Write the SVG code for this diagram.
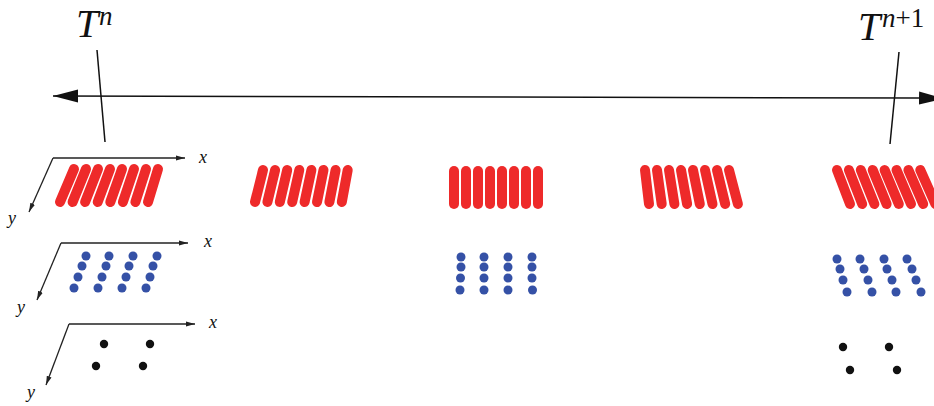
<svg xmlns="http://www.w3.org/2000/svg" width="934" height="406" viewBox="0 0 934 406">
<defs>
<marker id="bigArrow" markerUnits="userSpaceOnUse" markerWidth="26" markerHeight="14" refX="25" refY="7" orient="auto">
<path d="M0,0.5 L25,7 L0,13.5 Z" fill="#111"/>
</marker>
<marker id="smallArrow" markerUnits="userSpaceOnUse" markerWidth="10" markerHeight="6" refX="9" refY="3" orient="auto">
<path d="M0,0.5 L9,3 L0,5.5 Z" fill="#222"/>
</marker>
</defs>
<style>
.tl{stroke:#111;stroke-width:1.5;fill:none}
.ax{stroke:#222;stroke-width:1.3;fill:none}
.strip line{stroke:#ee2a2a;stroke-width:10;stroke-linecap:round}
.blue circle{fill:#3551a6}
.blk circle{fill:#111}
.math{font-family:"Liberation Serif","DejaVu Serif",serif;font-style:italic;fill:#111}
.up{font-style:normal}
</style>
<rect width="934" height="406" fill="#fff"/>
<g id="connectors">
<line class="tl" x1="918" y1="98" x2="53" y2="96" marker-end="url(#bigArrow)"/>
<line class="tl" x1="918" y1="98" x2="944" y2="98.5" marker-end="url(#bigArrow)"/>
<line class="tl" x1="97" y1="50" x2="105" y2="142"/>
<line class="tl" x1="899" y1="52" x2="890" y2="144"/>
</g>
<g id="label-Tn">
<text class="math" x="76" y="37" font-size="40">T</text>
<text class="math" x="99" y="25" font-size="27">n</text>
</g>
<g id="label-Tn1">
<text class="math" x="858" y="40" font-size="40">T</text>
<text class="math" x="882" y="27" font-size="27">n<tspan class="up">+1</tspan></text>
</g>
<g id="axes">
<g id="axes-red">
<polyline class="ax" points="53,158 185,158" marker-end="url(#smallArrow)"/>
<line class="ax" x1="53" y1="158" x2="29" y2="212" marker-end="url(#smallArrow)"/>
<text class="math" x="199" y="163" font-size="18">x</text>
<text class="math" x="8" y="224" font-size="18">y</text>
</g>
<g id="axes-blue">
<polyline class="ax" points="61,243 188,243" marker-end="url(#smallArrow)"/>
<line class="ax" x1="61" y1="243" x2="37" y2="300" marker-end="url(#smallArrow)"/>
<text class="math" x="204" y="247" font-size="18">x</text>
<text class="math" x="17" y="313" font-size="18">y</text>
</g>
<g id="axes-black">
<polyline class="ax" points="69,324 195,324" marker-end="url(#smallArrow)"/>
<line class="ax" x1="69" y1="324" x2="46" y2="385" marker-end="url(#smallArrow)"/>
<text class="math" x="209" y="328" font-size="18">x</text>
<text class="math" x="27" y="398" font-size="18">y</text>
</g>
</g>
<g id="strips-1" class="strip">
<line x1="74" y1="169" x2="60" y2="202"/>
<line x1="86" y1="169" x2="72.6" y2="202"/>
<line x1="98" y1="169" x2="85.1" y2="202"/>
<line x1="110" y1="169" x2="97.7" y2="202"/>
<line x1="122" y1="169" x2="110.3" y2="202"/>
<line x1="134" y1="169" x2="122.9" y2="202"/>
<line x1="146" y1="169" x2="135.4" y2="202"/>
<line x1="158" y1="169" x2="148" y2="202"/>
</g>
<g id="strips-2" class="strip">
<line x1="263" y1="170" x2="255" y2="202"/>
<line x1="275.1" y1="170" x2="267.4" y2="202"/>
<line x1="287.2" y1="170" x2="279.8" y2="202"/>
<line x1="299.3" y1="170" x2="292.2" y2="202"/>
<line x1="311.4" y1="170" x2="304.6" y2="202"/>
<line x1="323.5" y1="170" x2="317" y2="202"/>
<line x1="335.6" y1="170" x2="329.4" y2="202"/>
<line x1="347.7" y1="170" x2="341.8" y2="202"/>
</g>
<g id="strips-3" class="strip">
<line x1="454" y1="171" x2="454" y2="204"/>
<line x1="466" y1="171" x2="466" y2="204"/>
<line x1="478" y1="171" x2="478" y2="204"/>
<line x1="490" y1="171" x2="490" y2="204"/>
<line x1="502" y1="171" x2="502" y2="204"/>
<line x1="514" y1="171" x2="514" y2="204"/>
<line x1="526" y1="171" x2="526" y2="204"/>
<line x1="538" y1="171" x2="538" y2="204"/>
</g>
<g id="strips-4" class="strip">
<line x1="645" y1="170" x2="649" y2="204"/>
<line x1="657" y1="170" x2="661.7" y2="204"/>
<line x1="669" y1="170" x2="674.4" y2="204"/>
<line x1="681" y1="170" x2="687.1" y2="204"/>
<line x1="693" y1="170" x2="699.8" y2="204"/>
<line x1="705" y1="170" x2="712.5" y2="204"/>
<line x1="717" y1="170" x2="725.2" y2="204"/>
<line x1="729" y1="170" x2="737.9" y2="204"/>
</g>
<g id="strips-5" class="strip">
<line x1="837" y1="170" x2="850" y2="204"/>
<line x1="848.9" y1="170" x2="862.2" y2="204"/>
<line x1="860.8" y1="170" x2="874.4" y2="204"/>
<line x1="872.7" y1="170" x2="886.6" y2="204"/>
<line x1="884.6" y1="170" x2="898.8" y2="204"/>
<line x1="896.5" y1="170" x2="911" y2="204"/>
<line x1="908.4" y1="170" x2="923.2" y2="204"/>
<line x1="920.3" y1="170" x2="935.4" y2="204"/>
</g>
<g id="dots-blue-1" class="blue">
<circle cx="86" cy="256" r="4.5"/><circle cx="109" cy="256" r="4.5"/><circle cx="133" cy="256" r="4.5"/><circle cx="157" cy="256" r="4.5"/>
<circle cx="82" cy="266" r="4.5"/><circle cx="106" cy="266" r="4.5"/><circle cx="129" cy="266" r="4.5"/><circle cx="153" cy="266" r="4.5"/>
<circle cx="78" cy="277" r="4.5"/><circle cx="102" cy="277" r="4.5"/><circle cx="126" cy="277" r="4.5"/><circle cx="150" cy="277" r="4.5"/>
<circle cx="74" cy="288" r="4.5"/><circle cx="98" cy="288" r="4.5"/><circle cx="122" cy="288" r="4.5"/><circle cx="146" cy="288" r="4.5"/>
</g>
<g id="dots-blue-3" class="blue">
<circle cx="461" cy="257" r="4.5"/><circle cx="484" cy="257" r="4.5"/><circle cx="508" cy="257" r="4.5"/><circle cx="532" cy="257" r="4.5"/>
<circle cx="461" cy="267" r="4.5"/><circle cx="484" cy="267" r="4.5"/><circle cx="508" cy="267" r="4.5"/><circle cx="532" cy="267" r="4.5"/>
<circle cx="460.5" cy="278" r="4.5"/><circle cx="484" cy="278" r="4.5"/><circle cx="508" cy="278" r="4.5"/><circle cx="532" cy="278" r="4.5"/>
<circle cx="460" cy="290" r="4.5"/><circle cx="484" cy="290" r="4.5"/><circle cx="508" cy="290" r="4.5"/><circle cx="532.5" cy="290" r="4.5"/>
</g>
<g id="dots-blue-5" class="blue">
<circle cx="837" cy="259" r="4.5"/><circle cx="860" cy="259" r="4.5"/><circle cx="884" cy="259" r="4.5"/><circle cx="907" cy="259" r="4.5"/>
<circle cx="840" cy="269" r="4.5"/><circle cx="864" cy="269" r="4.5"/><circle cx="887" cy="269" r="4.5"/><circle cx="912" cy="269" r="4.5"/>
<circle cx="843" cy="280" r="4.5"/><circle cx="868" cy="280" r="4.5"/><circle cx="892" cy="280" r="4.5"/><circle cx="916" cy="280" r="4.5"/>
<circle cx="847" cy="292" r="4.5"/><circle cx="872" cy="292" r="4.5"/><circle cx="896" cy="292" r="4.5"/><circle cx="921" cy="292" r="4.5"/>
</g>
<g id="dots-black-1" class="blk">
<circle cx="104" cy="344" r="4.2"/><circle cx="150" cy="344" r="4.2"/>
<circle cx="96" cy="366" r="4.2"/><circle cx="143" cy="366" r="4.2"/>
</g>
<g id="dots-black-5" class="blk">
<circle cx="843" cy="347" r="4.2"/><circle cx="889" cy="347" r="4.2"/>
<circle cx="850" cy="370" r="4.2"/><circle cx="897" cy="370" r="4.2"/>
</g>
</svg>
